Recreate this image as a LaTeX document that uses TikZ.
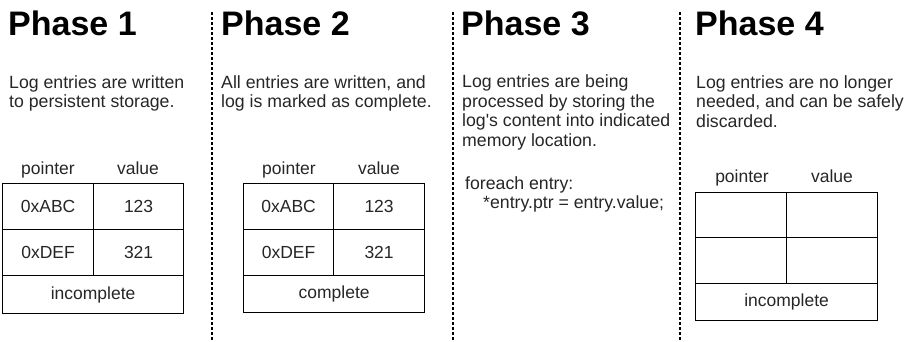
\documentclass[tikz,border=0pt]{standalone}
\usepackage{fontspec}
\setmainfont{Liberation Sans}
\begin{document}
\begin{tikzpicture}[x=1pt,y=-1pt,
  phasetitle/.style={anchor=base west, inner sep=0pt, font=\fontsize{34}{40}\selectfont\bfseries},
  % multi-line paragraphs are anchored at the baseline of their last line
  bodytext/.style={anchor=base west, inner sep=0pt, align=left, text=black!85, font=\fontsize{17.7}{19.5}\selectfont},
  cellbox/.style={draw, line width=1.2pt, anchor=north west, inner sep=0pt, text=black!85, font=\fontsize{17.5}{20}\selectfont},
  colhead/.style={anchor=base, inner sep=0pt, text=black!85, font=\fontsize{17.5}{20}\selectfont},
  divider/.style={line width=1.1pt, dash pattern=on 3pt off 2pt}]
\useasboundingbox (0,0) rectangle (908,341);

% phase dividers
\coordinate (d1t) at (212,12); \coordinate (d1b) at (212,341);
\coordinate (d2t) at (453,12); \coordinate (d2b) at (453,341);
\coordinate (d3t) at (680,12); \coordinate (d3b) at (680,341);
\draw[divider] (d1t) -- (d1b);
\draw[divider] (d2t) -- (d2b);
\draw[divider] (d3t) -- (d3b);

% Phase 1
\node[phasetitle] (t1) at (8,35) {Phase 1};
\node[bodytext] (b1) at (9,107.5) {Log entries are written\\to persistent storage.};
\node[colhead] (h1p) at (48,174) {pointer};
\node[colhead] (h1v) at (138,174) {value};
\node[cellbox, minimum width=91pt, minimum height=46pt] (c1a) at (2,183) {0xABC};
\node[cellbox, minimum width=90pt, minimum height=46pt] (c1b) at (93,183) {123};
\node[cellbox, minimum width=91pt, minimum height=46pt] (c1c) at (2,229) {0xDEF};
\node[cellbox, minimum width=90pt, minimum height=46pt] (c1d) at (93,229) {321};
\node[cellbox, minimum width=181pt, minimum height=38pt] (c1e) at (2,275) {incomplete};

% Phase 2
\node[phasetitle] (t2) at (221,35) {Phase 2};
\node[bodytext] (b2) at (221,107.5) {All entries are written, and\\log is marked as complete.};
\node[colhead] (h2p) at (289,174) {pointer};
\node[colhead] (h2v) at (379,174) {value};
\node[cellbox, minimum width=90pt, minimum height=46pt] (c2a) at (243,183) {0xABC};
\node[cellbox, minimum width=91pt, minimum height=46pt] (c2b) at (333,183) {123};
\node[cellbox, minimum width=90pt, minimum height=46pt] (c2c) at (243,229) {0xDEF};
\node[cellbox, minimum width=91pt, minimum height=46pt] (c2d) at (333,229) {321};
\node[cellbox, minimum width=181pt, minimum height=37pt] (c2e) at (243,275) {complete};

% Phase 3
\node[phasetitle] (t3) at (461,35) {Phase 3};
\node[bodytext] (b3) at (462,146) {Log entries are being\\processed by storing the\\log\textquotesingle s content into indicated\\memory location.};
\node[bodytext] (k3a) at (465,189.5) {foreach entry:};
\node[bodytext] (k3b) at (483,208.5) {*entry.ptr = entry.value;};

% Phase 4
\node[phasetitle] (t4) at (695,35) {Phase 4};
\node[bodytext] (b4) at (696,127) {Log entries are no longer\\needed, and can be safely\\discarded.};
\node[colhead] (h4p) at (742,182) {pointer};
\node[colhead] (h4v) at (832,182) {value};
\node[cellbox, minimum width=91pt, minimum height=45pt] (c4a) at (695,192) {};
\node[cellbox, minimum width=91pt, minimum height=45pt] (c4b) at (786,192) {};
\node[cellbox, minimum width=91pt, minimum height=46pt] (c4c) at (695,237) {};
\node[cellbox, minimum width=91pt, minimum height=46pt] (c4d) at (786,237) {};
\node[cellbox, minimum width=182pt, minimum height=37pt] (c4e) at (695,283) {incomplete};
\end{tikzpicture}
\end{document}
